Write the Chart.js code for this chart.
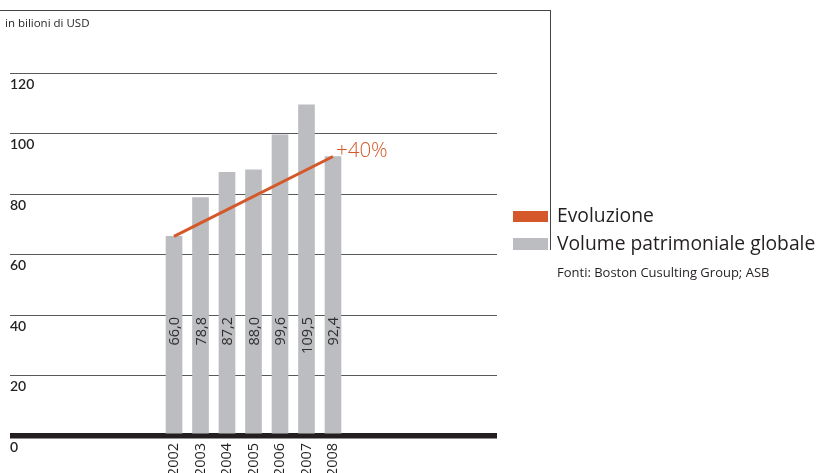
<!DOCTYPE html>
<html>
<head>
<meta charset="utf-8">
<script src="https://cdn.jsdelivr.net/npm/chart.js@4.4.0/dist/chart.umd.min.js"></script>
<style>
  body { margin: 0; background: #fff; font-family: "Open Sans", Lato, sans-serif; }
  #wrap { position: relative; width: 819px; height: 473px; overflow: hidden; }
  #frame { position: absolute; left: 0; top: 10px; width: 550px; height: 239px; border-top: 1px solid #444; border-right: 1px solid #444; }
  .txt { position: absolute; white-space: nowrap; color: #231f20; line-height: 1; }
  .swatch { position: absolute; left: 513px; width: 35px; }
</style>
</head>
<body>
<div id="wrap">
  <canvas id="myChart" width="819" height="473"></canvas>
  <div id="frame"></div>
  <div class="txt" style="left:5px; top:17px; font-size:11.5px;">in bilioni di USD</div>
  <div class="swatch" style="top:211px; height:11px; background:#d4582a;"></div>
  <div class="swatch" style="top:238px; height:12px; background:#bcbdc0;"></div>
  <div class="txt" style="left:557px; top:205px; font-size:19.3px;">Evoluzione</div>
  <div class="txt" style="left:557px; top:233px; font-size:19.3px;">Volume patrimoniale globale</div>
  <div class="txt" style="left:557px; top:266px; font-size:13px;">Fonti: Boston Cusulting Group; ASB</div>
</div>
<script>
// dati
const years = [2002, 2003, 2004, 2005, 2006, 2007, 2008];
const volume = [66.0, 78.8, 87.2, 88.0, 99.6, 109.5, 92.4];
const trendYears = [2002, 2008];
const trendValues = [66.0, 92.4];
const trendLabel = '+40%';
const yTicks = [0, 20, 40, 60, 80, 100, 120];

const orange = '#d4582a';
const grey = '#bcbdc0';

// etichette dentro le barre e "+40%"
const labelsPlugin = {
  id: 'labelsPlugin',
  afterDatasetsDraw(chart) {
    const ctx = chart.ctx;
    const xs = chart.scales.x;
    const ys = chart.scales.y;

    ctx.save();
    ctx.fillStyle = '#2e2e2e';
    ctx.font = '400 14.5px "Open Sans"';
    ctx.textAlign = 'right';
    ctx.textBaseline = 'middle';
    for (let i = 0; i < years.length; i++) {
      const x = xs.getPixelForValue(years[i]);
      const y = ys.getPixelForValue(40) + 2;
      ctx.save();
      ctx.translate(x + 1, y);
      ctx.rotate(-Math.PI / 2);
      ctx.fillText(volume[i].toFixed(1).replace('.', ','), 0, 0);
      ctx.restore();
    }
    ctx.restore();

    const last = trendValues.length - 1;
    ctx.save();
    ctx.fillStyle = orange;
    ctx.font = '300 20.5px "Open Sans"';
    ctx.textAlign = 'left';
    ctx.textBaseline = 'alphabetic';
    ctx.fillText(trendLabel, xs.getPixelForValue(trendYears[last]) + 3, ys.getPixelForValue(trendValues[last]) + 1);
    ctx.restore();
  }
};

const ctx = document.getElementById('myChart').getContext('2d');
new Chart(ctx, {
  type: 'bar',
  data: {
    datasets: [{
      type: 'line',
      label: 'Evoluzione',
      data: trendYears.map((y, i) => ({ x: y, y: trendValues[i] })),
      borderColor: orange,
      borderWidth: 3,
      pointRadius: 0,
      order: 0
    }, {
      label: 'Volume patrimoniale globale',
      data: years.map((y, i) => ({ x: y, y: volume[i] })),
      backgroundColor: grey,
      barThickness: 16,
      order: 1
    }]
  },
  options: {
    responsive: false,
    devicePixelRatio: 1,
    animation: false,
    layout: { padding: { left: 10, right: 322, top: 73, bottom: 0 } },
    plugins: { legend: { display: false }, tooltip: { enabled: false } },
    scales: {
      x: {
        type: 'linear',
        min: 1995.81,
        max: 2014.19,
        offset: false,
        grid: { display: false, drawTicks: false },
        border: { display: false },
        afterBuildTicks: function (scale) {
          scale.ticks = years.map(v => ({ value: v }));
        },
        afterFit: function (scale) { scale.height = 37; },
        ticks: {
          autoSkip: false,
          minRotation: 90,
          maxRotation: 90,
          padding: 7,
          color: '#231f20',
          font: { family: 'Open Sans', size: 14.5, weight: '400' },
          callback: v => String(v)
        }
      },
      y: {
        min: 0,
        max: 120,
        afterBuildTicks: function (scale) {
          scale.ticks = yTicks.map(v => ({ value: v }));
        },
        afterFit: function (scale) { scale.width = 0; },
        border: { display: false },
        grid: {
          drawTicks: false,
          color: c => c.tick && c.tick.value === 0 ? '#231f20' : '#58595b',
          lineWidth: c => c.tick && c.tick.value === 0 ? 5.5 : 1
        },
        ticks: {
          mirror: true,
          padding: 0,
          labelOffset: 11,
          color: '#231f20',
          font: { family: 'Lato', size: 14, weight: '600' },
          callback: v => String(v)
        }
      }
    }
  },
  plugins: [labelsPlugin]
});
</script>
</body>
</html>
